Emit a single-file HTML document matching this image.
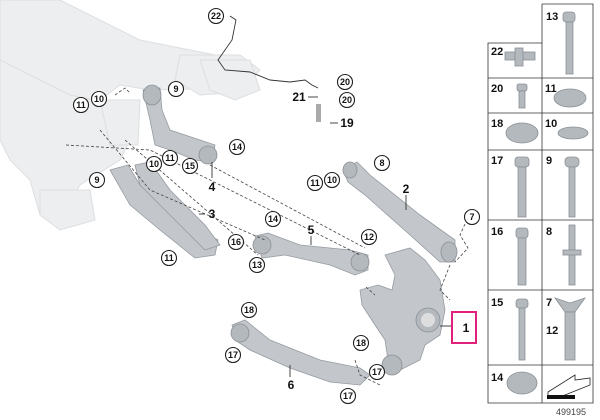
<!DOCTYPE html>
<html><head><style>
html,body{margin:0;padding:0;background:#fff;}
svg{display:block;font-family:"Liberation Sans",sans-serif;}
.c{fill:#fff;stroke:#222;stroke-width:1.1}
.t{font-size:9px;font-weight:bold;text-anchor:middle;fill:#111}
.b{font-size:12px;font-weight:bold;text-anchor:middle;fill:#111}
.d{stroke:#444;stroke-width:0.8;stroke-dasharray:3,2;fill:none}
.l{stroke:#333;stroke-width:0.9;fill:none}
.g{fill:#b4b9be;stroke:#8a9096;stroke-width:0.8}
.p{fill:#c3c7cb;stroke:#959ba1;stroke-width:0.8}
.f{fill:#eceeef;stroke:#dcdfe1;stroke-width:1}
.grid{stroke:#333;stroke-width:0.8;fill:none}
</style></head><body>
<svg width="600" height="420" viewBox="0 0 600 420">
<g class="f">
<path d="M0,0 L60,0 L140,40 L240,60 L250,72 L240,88 L150,90 L120,85 L100,100 L60,100 L30,120 L0,110 Z"/>
<path d="M0,60 L70,95 L120,105 L135,130 L120,160 L80,185 L60,220 L40,215 L30,180 L10,160 L0,140 Z"/>
<path d="M180,55 L240,55 L260,70 L240,92 L200,95 L175,80 Z"/>
<path d="M200,60 L250,60 L260,90 L235,100 L210,90 Z"/>
<path d="M100,100 L140,100 L138,145 L110,145 Z"/>
<path d="M40,190 L90,190 L95,220 L60,230 L40,215 Z"/>
</g>
<path class="p" d="M143,90 L160,88 L162,110 L170,130 L200,140 L215,145 L212,162 L195,160 L170,150 L155,145 L150,120 Z"/>
<ellipse class="g" cx="152" cy="95" rx="9" ry="10"/>
<ellipse class="g" cx="208" cy="155" rx="9" ry="9"/>
<path class="p" d="M110,170 L128,165 L140,185 L180,220 L218,240 L215,255 L195,258 L160,230 L130,205 Z"/>
<path class="p" d="M135,165 L150,162 L170,190 L205,225 L220,245 L205,250 L170,215 L140,185 Z"/>
<path class="p" d="M343,170 L357,162 L370,175 L420,215 L455,240 L455,262 L440,262 L410,235 L365,195 L348,182 Z"/>
<ellipse class="g" cx="350" cy="170" rx="7" ry="8"/>
<ellipse class="g" cx="449" cy="252" rx="8" ry="10"/>
<path class="p" d="M255,236 L268,233 L300,245 L350,250 L368,255 L368,270 L355,275 L330,265 L285,255 L262,258 Z"/>
<circle class="g" cx="262" cy="245" r="9"/>
<circle class="g" cx="360" cy="262" r="9"/>
<path class="p" d="M385,255 L410,248 L425,260 L440,280 L445,310 L440,335 L425,345 L420,360 L400,370 L388,360 L385,340 L375,325 L362,305 L360,290 L378,285 L392,290 L395,275 Z"/>
<circle class="g" cx="428" cy="320" r="12"/>
<circle fill="#ddd" cx="428" cy="320" r="7"/>
<circle class="g" cx="392" cy="365" r="10"/>
<path class="p" d="M232,325 L245,320 L270,340 L320,360 L360,368 L370,375 L360,385 L330,382 L290,368 L250,350 L238,342 Z"/>
<circle class="g" cx="240" cy="333" r="9"/>
<path class="l" d="M230,16 L236,20 L232,40 L218,60 L225,70 L250,72 L270,80 L290,82 L305,80 L312,85 L318,88"/>
<rect x="316" y="104" width="5" height="18" fill="#aaa"/>
<path class="d" d="M66,145 L150,150 L360,255"/>
<path class="d" d="M100,130 L150,190 L265,240"/>
<path class="d" d="M125,140 L258,255"/>
<path class="d" d="M210,165 L365,248"/>
<path class="d" d="M115,95 L125,88 L130,93"/>
<path class="d" d="M366,287 L375,295"/>
<path class="d" d="M355,360 L360,375 L380,385"/>
<path class="d" d="M465,224 L460,235 L468,248 L455,262"/>
<path class="d" d="M450,265 L440,290 L450,300"/>
<path class="l" d="M212,162 L212,178"/>
<path class="l" d="M406,195 L406,210"/>
<path class="l" d="M311,236 L311,245"/>
<path class="l" d="M199,214 L205,214"/>
<path class="l" d="M452,326 L440,326"/>
<path class="l" d="M290,377 L290,365"/>
<path class="l" d="M330,123 L338,123"/>
<path class="l" d="M308,97 L318,97"/>
<g>
<circle class="c" cx="216" cy="16" r="7.5"/><text class="t" x="216" y="19">22</text>
<circle class="c" cx="176" cy="89" r="7.5"/><text class="t" x="176" y="92">9</text>
<circle class="c" cx="99" cy="99" r="7.5"/><text class="t" x="99" y="102">10</text>
<circle class="c" cx="81" cy="105" r="7.5"/><text class="t" x="81" y="108">11</text>
<circle class="c" cx="345" cy="82" r="7.5"/><text class="t" x="345" y="85">20</text>
<circle class="c" cx="347" cy="100" r="7.5"/><text class="t" x="347" y="103">20</text>
<text class="b" x="299" y="101">21</text>
<text class="b" x="347" y="127">19</text>
<circle class="c" cx="237" cy="147" r="7.5"/><text class="t" x="237" y="150">14</text>
<circle class="c" cx="170" cy="158" r="7.5"/><text class="t" x="170" y="161">11</text>
<circle class="c" cx="154" cy="164" r="7.5"/><text class="t" x="154" y="167">10</text>
<circle class="c" cx="190" cy="166" r="7.5"/><text class="t" x="190" y="169">15</text>
<text class="b" x="212" y="191">4</text>
<circle class="c" cx="382" cy="163" r="7.5"/><text class="t" x="382" y="166">8</text>
<circle class="c" cx="315" cy="183" r="7.5"/><text class="t" x="315" y="186">11</text>
<circle class="c" cx="332" cy="180" r="7.5"/><text class="t" x="332" y="183">10</text>
<text class="b" x="406" y="193">2</text>
<circle class="c" cx="97" cy="180" r="7.5"/><text class="t" x="97" y="183">9</text>
<text class="b" x="212" y="218">3</text>
<circle class="c" cx="472" cy="217" r="7.5"/><text class="t" x="472" y="220">7</text>
<circle class="c" cx="273" cy="219" r="7.5"/><text class="t" x="273" y="222">14</text>
<text class="b" x="311" y="234">5</text>
<circle class="c" cx="369" cy="237" r="7.5"/><text class="t" x="369" y="240">12</text>
<circle class="c" cx="236" cy="242" r="7.5"/><text class="t" x="236" y="245">16</text>
<circle class="c" cx="169" cy="258" r="7.5"/><text class="t" x="169" y="261">11</text>
<circle class="c" cx="257" cy="265" r="7.5"/><text class="t" x="257" y="268">13</text>
<circle class="c" cx="249" cy="310" r="7.5"/><text class="t" x="249" y="313">18</text>
<circle class="c" cx="361" cy="343" r="7.5"/><text class="t" x="361" y="346">18</text>
<circle class="c" cx="233" cy="355" r="7.5"/><text class="t" x="233" y="358">17</text>
<text class="b" x="291" y="389">6</text>
<circle class="c" cx="377" cy="372" r="7.5"/><text class="t" x="377" y="375">17</text>
<circle class="c" cx="348" cy="396" r="7.5"/><text class="t" x="348" y="399">17</text>
</g>
<rect x="452" y="312" width="24" height="31" fill="none" stroke="#e0207a" stroke-width="2"/>
<text class="b" x="466" y="332">1</text>
<path class="grid" d="M542,4 L593,4 L593,403 L488,403 L488,43 L542,43 M542,4 L542,403 M488,78 L593,78 M488,113 L593,113 M488,150 L593,150 M488,220 L593,220 M488,290 L593,290 M488,365 L593,365"/>
<g font-size="11" font-weight="bold" fill="#111">
<text x="546" y="20">13</text><text x="491" y="55">22</text>
<text x="491" y="92">20</text><text x="545" y="92">11</text>
<text x="491" y="127">18</text><text x="545" y="127">10</text>
<text x="491" y="164">17</text><text x="546" y="164">9</text>
<text x="491" y="235">16</text><text x="546" y="235">8</text>
<text x="491" y="306">15</text><text x="546" y="306">7</text><text x="546" y="334">12</text>
<text x="491" y="381">14</text>
</g>
<g class="g">
<rect x="563" y="12" width="12" height="10" rx="3"/><rect x="566" y="22" width="7" height="52"/>
<rect x="505" y="52" width="30" height="8"/><rect x="515" y="48" width="8" height="18"/>
<rect x="517" y="84" width="10" height="7" rx="2"/><rect x="519" y="91" width="6" height="17"/>
<ellipse cx="570" cy="98" rx="16" ry="9"/>
<ellipse cx="522" cy="133" rx="16" ry="10"/>
<ellipse cx="573" cy="133" rx="15" ry="6"/>
<rect x="515" y="157" width="14" height="10" rx="3"/><rect x="518" y="167" width="8" height="50"/>
<rect x="565" y="157" width="14" height="10" rx="4"/><rect x="569" y="167" width="6" height="50"/>
<rect x="516" y="228" width="12" height="10" rx="3"/><rect x="518" y="238" width="8" height="47"/>
<rect x="569" y="225" width="6" height="60"/><rect x="563" y="250" width="18" height="5"/>
<rect x="516" y="299" width="12" height="9" rx="3"/><rect x="519" y="308" width="6" height="52"/>
<path d="M555,298 L570,303 L585,298 L575,312 L565,312 Z"/><rect x="565" y="312" width="10" height="48"/>
<ellipse cx="522" cy="383" rx="15" ry="11"/>
</g>
<path d="M548,392 L575,375 L575,380 L590,378 L590,385 L565,395 L548,398 Z" fill="#fff" stroke="#222" stroke-width="0.8"/>
<rect x="547" y="395" width="28" height="4" fill="#111"/>
<text x="556" y="415" font-size="9" fill="#444">499195</text>
</svg>
</body></html>
